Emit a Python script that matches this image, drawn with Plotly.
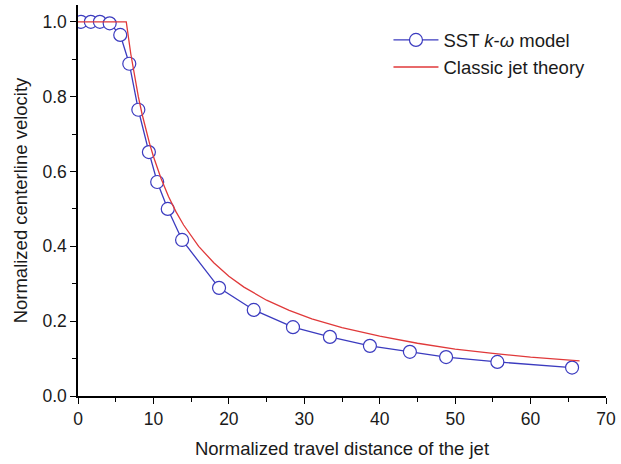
import plotly.graph_objects as go

# SST k-omega model (CFD points)
sst_x = [0.4, 1.7, 2.9, 4.2, 5.6, 6.8, 8.0, 9.4, 10.5, 11.9, 13.8, 18.7, 23.3, 28.5, 33.4, 38.7, 44.0, 48.8, 55.6, 65.5]
sst_y = [1.0, 1.0, 1.0, 0.996, 0.965, 0.888, 0.765, 0.652, 0.572, 0.500, 0.417, 0.289, 0.230, 0.184, 0.158, 0.134, 0.118, 0.104, 0.091, 0.076]

# Classic jet theory curve
jet_x = [0, 6.4, 7, 7.5, 8, 8.5, 9, 9.5, 10, 11, 12, 13, 14, 15, 16, 18, 20, 22, 25, 28, 31, 35, 40, 45, 50, 55, 60, 66.5]
jet_y = [1.0, 1.0, 0.914, 0.853, 0.80, 0.753, 0.711, 0.674, 0.64, 0.582, 0.533, 0.492, 0.457, 0.427, 0.40, 0.356,
         0.32, 0.291, 0.256, 0.229, 0.206, 0.183, 0.160, 0.141, 0.125, 0.114, 0.104, 0.094]

x_ticks = [0, 10, 20, 30, 40, 50, 60, 70]
y_ticks = [0.0, 0.2, 0.4, 0.6, 0.8, 1.0]

blue = "#3b3bbf"
red = "#e0393a"

fig = go.Figure()
fig.add_trace(go.Scatter(
    x=sst_x, y=sst_y, mode="lines+markers",
    name="SST <i>k</i>-<i>ω</i> model",
    line=dict(color=blue, width=1.3),
    marker=dict(symbol="circle", size=13, color="white", line=dict(color=blue, width=1.2)),
))
fig.add_trace(go.Scatter(
    x=jet_x, y=jet_y, mode="lines",
    name="Classic jet theory",
    line=dict(color=red, width=1.3),
))

font = "Liberation Sans, Arial, sans-serif"
fig.update_layout(
    width=621, height=464,
    margin=dict(l=78, r=15, t=5, b=68),
    paper_bgcolor="white", plot_bgcolor="white",
    font=dict(family=font, size=18, color="#1a1a1a"),
    showlegend=True,
    legend=dict(x=0.588, y=0.958, xanchor="left", yanchor="top",
                bgcolor="rgba(0,0,0,0)", font=dict(size=18.5, color="#1a1a1a"),
                tracegroupgap=0, itemwidth=45),
    xaxis=dict(range=[0, 70], tickvals=x_ticks, ticktext=[str(v) for v in x_ticks],
               showline=True, linecolor="black", linewidth=1.5, showgrid=False, zeroline=False,
               ticks="outside", ticklen=6, tickwidth=1.3, tickcolor="black",
               minor=dict(ticks="outside", ticklen=4, tickwidth=1.3, tickcolor="black", dtick=5, tick0=0),
               title=dict(text="Normalized travel distance of the jet", font=dict(size=18.5), standoff=14),
               tickfont=dict(size=17.5)),
    yaxis=dict(range=[0, 1.045], tickvals=y_ticks, ticktext=["%.1f" % v for v in y_ticks],
               showline=True, linecolor="black", linewidth=1.5, showgrid=False, zeroline=False,
               ticks="outside", ticklen=6, tickwidth=1.3, tickcolor="black",
               minor=dict(ticks="outside", ticklen=4, tickwidth=1.3, tickcolor="black", dtick=0.1, tick0=0),
               title=dict(text="Normalized centerline velocity", font=dict(size=18.5), standoff=10),
               tickfont=dict(size=17.5)),
)

fig.write_html("out.html")
